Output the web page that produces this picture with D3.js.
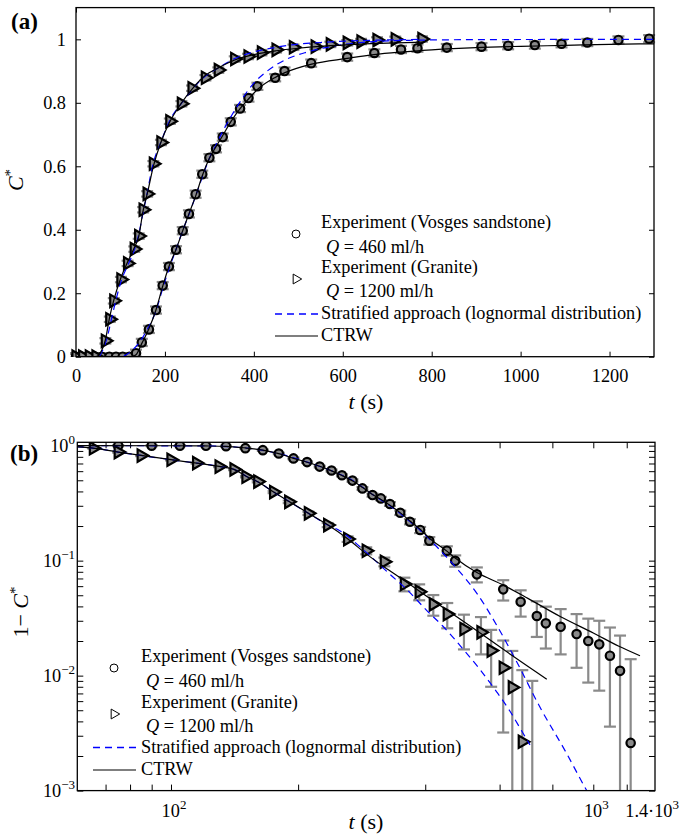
<!DOCTYPE html>
<html>
<head>
<meta charset="utf-8">
<script src="https://cdn.jsdelivr.net/npm/d3@7"></script>
<style>
body { margin: 0; background: #fff; }
</style>
</head>
<body>
<script>
// ---- panel (a): C* against t ----
const tVosgesA = [0,13,28,43,58,75,90,105,120,135,148,164,180,195,209,225,240,254,269,284,300,315,330,348,369,388,408,448,469,529,610,671,731,768,834,912,972,1032,1092,1150,1220,1289];
const cVosgesA = [0,0,0,0,0,0,0,0,0,0.011,0.045,0.086,0.147,0.224,0.284,0.337,0.397,0.450,0.512,0.575,0.627,0.655,0.692,0.740,0.782,0.815,0.852,0.879,0.900,0.925,0.944,0.957,0.968,0.972,0.974,0.977,0.980,0.982,0.986,0.990,0.998,1.002];
const tGraniteA = [0,15,30,45,66,76,85,101,116,131,141,151,160,174,191,211,237,261,291,320,357,387,417,450,489,538,572,610,641,677,718,778];
const cGraniteA = [0,0,0,0,0.05,0.118,0.176,0.243,0.294,0.339,0.38,0.463,0.513,0.608,0.675,0.742,0.797,0.846,0.879,0.903,0.938,0.946,0.958,0.967,0.975,0.977,0.984,0.989,0.993,0.998,1.0,1.001];

const ctrwVosgesTA = [0,125,135,148,164,180,195,209,225,240,254,270,284,300,315,330,348,369,388,408,448,470,530,610,670,730,800,900,1000,1100,1200,1300];
const ctrwVosgesCA = [0,0,0.006,0.042,0.088,0.148,0.222,0.284,0.338,0.397,0.45,0.51,0.57,0.625,0.662,0.697,0.74,0.782,0.812,0.842,0.88,0.895,0.922,0.94,0.952,0.96,0.967,0.974,0.978,0.981,0.984,0.986];
const ctrwGraniteTA = [0,45,55,66,75,85,100,115,130,141,151,160,175,190,211,235,262,290,320,357,400,450,500,550,600,650,700,780];
const ctrwGraniteCA = [0,0,0.012,0.052,0.12,0.178,0.245,0.295,0.34,0.378,0.46,0.512,0.605,0.672,0.74,0.795,0.845,0.885,0.91,0.935,0.952,0.964,0.972,0.978,0.982,0.986,0.988,0.991];
const stratVosgesTA = [0,100,115,130,145,160,180,195,210,225,240,255,270,285,300,315,330,350,370,400,430,470,520,580,650,750,900,1300];
const stratVosgesCA = [0,0,0.008,0.025,0.05,0.085,0.145,0.215,0.28,0.338,0.397,0.452,0.51,0.57,0.625,0.668,0.71,0.76,0.805,0.862,0.9,0.935,0.96,0.979,0.991,0.997,0.999,1.0];
const stratGraniteTA = [0,50,60,70,80,90,102,117,131,141,151,160,172,192,211,238,260,292,320,358,400,450,500,550,600,700,780];
const stratGraniteCA = [0,0,0.02,0.06,0.12,0.18,0.24,0.29,0.335,0.385,0.455,0.515,0.6,0.68,0.745,0.8,0.84,0.885,0.91,0.94,0.96,0.975,0.985,0.99,0.994,0.998,1.0];

const xTicksA = [0,200,400,600,800,1000,1200];
const yTicksA = [0,0.2,0.4,0.6,0.8,1];

// ---- panel (b): 1 - C* against t, log-log ----
const tVosgesB = [75,90,105,121,135,150,165,180,195,210,225,240,254,269,284,300,314,330,349,368,389,409,450,471,530,612,673,735,772,837,913,973,1033,1095,1157,1226];
const vVosgesB = [1.0,1.0,1.0,0.998,0.99,0.952,0.914,0.855,0.775,0.72,0.658,0.608,0.553,0.497,0.425,0.372,0.348,0.311,0.261,0.218,0.185,0.149,0.122,0.0998,0.076,0.0563,0.0439,0.033,0.0285,0.0266,0.023,0.020,0.0187,0.0149,0.011,0.0026];
const tGraniteB = [65.5,75,85,100,115,130,141,150.5,160.5,175,190,211.5,235,262,290,320,357,387,418,451,494,542,573,612,643,679,717];
const vGraniteB = [0.95,0.88,0.82,0.755,0.705,0.658,0.622,0.537,0.487,0.395,0.325,0.258,0.204,0.154,0.122,0.0978,0.0626,0.0537,0.0417,0.0343,0.0254,0.0238,0.0165,0.0117,0.0079,0.00266,0.0005];

const ctrwVosgesTB = [60,100,120,135,150,165,180,195,210,225,240,254,270,285,300,315,330,350,370,390,410,450,470,530,612,700,837,1000,1150,1290];
const ctrwVosgesVB = [1.0,0.999,0.995,0.988,0.956,0.914,0.853,0.776,0.718,0.662,0.604,0.55,0.49,0.43,0.376,0.338,0.303,0.259,0.218,0.186,0.156,0.121,0.106,0.079,0.0614,0.047,0.0325,0.0235,0.018,0.0149];
const ctrwGraniteTB = [60,66,75,85,100,115,130,141,151,160,175,190,211,235,262,290,320,357,400,451,500,572,650,776];
const ctrwGraniteVB = [0.975,0.948,0.88,0.822,0.755,0.705,0.66,0.622,0.54,0.488,0.395,0.328,0.26,0.205,0.155,0.1145,0.088,0.0673,0.05,0.037,0.0285,0.0202,0.0145,0.0093];
const stratVosgesTB = [60,120,150,180,210,240,270,300,330,370,389,426,480,530,590,660,748,865,955,965];
const stratVosgesVB = [1.0,0.995,0.955,0.853,0.72,0.605,0.495,0.376,0.3,0.215,0.184,0.132,0.082,0.052,0.0276,0.013,0.0053,0.0021,0.00107,0.001];
const stratGraniteTB = [60,66,75,85,100,115,130,141,151,160,175,190,211,235,251,290,330,362,403,440,493,539,591,635,677,708];
const stratGraniteVB = [0.975,0.948,0.88,0.822,0.755,0.705,0.66,0.622,0.54,0.488,0.395,0.328,0.26,0.204,0.182,0.118,0.076,0.056,0.037,0.027,0.0168,0.0113,0.0072,0.0049,0.0033,0.0025];

const errVosges = 0.0113;
const errGranite = 0.0085;

const xTicksB = [70,80,90,100,200,400,600,800,1000,1200];
const xLabelValsB = [100,1000,1400];
const xLabelBaseB = ['10','10','1.4·10'];
const xLabelSupB = ['2','3','3'];
const yLabelValsB = [1,0.1,0.01,0.001];
const yLabelSupB = ['0','−1','−2','−3'];

const legendNames = ['Experiment (Vosges sandstone)', '= 460 ml/h', 'Experiment (Granite)', '= 1200 ml/h',
                     'Stratified approach (lognormal distribution)', 'CTRW'];

const FONT = '"Liberation Serif", "Times New Roman", Times, serif';
const W = 680, H = 838;
const svg = d3.select('body').append('svg').attr('width', W).attr('height', H)
  .style('font-family', FONT);

const BLUE = '#0000ff', GREY = '#8a8a8a';
const zip = (a, b) => a.map((d, i) => [d, b[i]]);

function frame(g, x0, y0, x1, y1) {
  g.append('rect').attr('x', x0).attr('y', y0).attr('width', x1 - x0).attr('height', y1 - y0)
    .attr('fill', 'none').attr('stroke', '#000').attr('stroke-width', 1.3);
}

function errorBars(g, pts, err, x, y, lo) {
  const cw = 6;
  pts.forEach(([t, v]) => {
    const yt = y(v + err), yb = v - err > lo ? y(v - err) : y(lo) + 40;
    const xx = x(t);
    g.append('line').attr('x1', xx).attr('x2', xx).attr('y1', yt).attr('y2', yb);
    g.append('line').attr('x1', xx - cw).attr('x2', xx + cw).attr('y1', yt).attr('y2', yt);
    if (v - err > lo) g.append('line').attr('x1', xx - cw).attr('x2', xx + cw).attr('y1', yb).attr('y2', yb);
  });
  g.attr('stroke', GREY).attr('stroke-width', 2.2);
}

const triPath = d3.symbol(d3.symbolTriangle, 66)();
const triLegend = d3.symbol(d3.symbolTriangle, 42)();

function circles(g, pts, x, y) {
  g.selectAll('circle').data(pts).join('circle')
    .attr('cx', d => x(d[0])).attr('cy', d => y(d[1])).attr('r', 4.2)
    .attr('fill', GREY).attr('stroke', '#000').attr('stroke-width', 2.2);
}
function triangles(g, pts, x, y) {
  g.selectAll('path').data(pts).join('path')
    .attr('d', triPath)
    .attr('transform', d => `translate(${x(d[0])},${y(d[1])}) rotate(90)`)
    .attr('fill', GREY).attr('stroke', '#000').attr('stroke-width', 2.2);
}
function curve(g, pts, x, y, dashed) {
  const line = d3.line().x(d => x(d[0])).y(d => y(d[1])).curve(d3.curveMonotoneX);
  g.append('path').attr('d', line(pts)).attr('fill', 'none')
    .attr('stroke', dashed ? BLUE : '#000').attr('stroke-width', 1.2)
    .attr('stroke-dasharray', dashed ? '7,5' : null);
}

function legend(g, x0, xt, yb) {
  // yb: baselines of the six legend lines
  g.append('circle').attr('cx', x0 + 21).attr('cy', yb[0] + 6).attr('r', 4)
    .attr('fill', 'none').attr('stroke', '#000').attr('stroke-width', 1);
  g.append('path').attr('d', triLegend)
    .attr('transform', `translate(${x0 + 21},${yb[2] + 6}) rotate(90)`)
    .attr('fill', 'none').attr('stroke', '#000').attr('stroke-width', 1);
  g.append('line').attr('x1', x0).attr('x2', x0 + 44).attr('y1', yb[4] - 5).attr('y2', yb[4] - 5)
    .attr('stroke', BLUE).attr('stroke-width', 1.3).attr('stroke-dasharray', '7,5');
  g.append('line').attr('x1', x0).attr('x2', x0 + 43).attr('y1', yb[5] - 5).attr('y2', yb[5] - 5)
    .attr('stroke', '#000').attr('stroke-width', 1.2);
  legendNames.forEach((s, i) => {
    const q = (i === 1 || i === 3);
    const t = g.append('text').attr('x', q ? xt + 5 : xt).attr('y', yb[i]).attr('font-size', 18.3);
    if (q) {
      t.append('tspan').attr('font-style', 'italic').text('Q');
      t.append('tspan').text(' ' + s);
    } else t.text(s);
  });
}

// ================= panel (a) =================
const xA = d3.scaleLinear().domain([0, 1300]).range([76, 654]);
const yA = d3.scaleLinear().domain([0, 1.1]).range([356.7, 7.6]);
const gA = svg.append('g');

gA.append('clipPath').attr('id', 'clipA').append('rect')
  .attr('x', 70).attr('y', 0).attr('width', 590).attr('height', 357);

const axA = gA.append('g');
const fmtA = d => (d === 0 || d === 1) ? d3.format('d')(d) : d3.format('.1f')(d);
axA.append('g').attr('transform', 'translate(0,356.7)')
  .call(d3.axisBottom(xA).tickValues(xTicksA).tickFormat(d3.format('d')).tickSize(-5).tickPadding(12))
  .call(g => g.select('.domain').remove());
axA.append('g').attr('transform', 'translate(0,7.6)')
  .call(d3.axisTop(xA).tickValues(xTicksA).tickSize(-5).tickFormat(''))
  .call(g => g.select('.domain').remove());
axA.append('g').attr('transform', 'translate(76,0)')
  .call(d3.axisLeft(yA).tickValues(yTicksA).tickFormat(fmtA).tickSize(-5).tickPadding(10))
  .call(g => g.select('.domain').remove());
axA.append('g').attr('transform', 'translate(654,0)')
  .call(d3.axisRight(yA).tickValues(yTicksA).tickSize(-5).tickFormat(''))
  .call(g => g.select('.domain').remove());
axA.selectAll('g').attr('font-family', null).attr('font-size', 18.3);
axA.selectAll('text').attr('fill', '#000');
axA.selectAll('.tick line').attr('stroke', '#000');

const dataA = gA.append('g').attr('clip-path', 'url(#clipA)');
errorBars(dataA.append('g'), zip(tVosgesA, cVosgesA), errVosges, xA, yA, -1);
errorBars(dataA.append('g'), zip(tGraniteA, cGraniteA), errGranite, xA, yA, -1);
circles(dataA.append('g'), zip(tVosgesA, cVosgesA), xA, yA);
triangles(dataA.append('g'), zip(tGraniteA, cGraniteA), xA, yA);
curve(dataA, zip(stratVosgesTA, stratVosgesCA), xA, yA, true);
curve(dataA, zip(stratGraniteTA, stratGraniteCA), xA, yA, true);
curve(dataA, zip(ctrwVosgesTA, ctrwVosgesCA), xA, yA, false);
curve(dataA, zip(ctrwGraniteTA, ctrwGraniteCA), xA, yA, false);

frame(gA, 76, 7.6, 654, 356.7);
legend(gA.append('g'), 275, 321, [228, 252.5, 273, 297, 319, 341]);

gA.append('text').attr('x', 11).attr('y', 29).attr('font-size', 23).attr('font-weight', 'bold').text('(a)');
const ytA = gA.append('text').attr('transform', 'translate(23,180) rotate(-90)')
  .attr('text-anchor', 'middle').attr('font-size', 22);
ytA.append('tspan').attr('font-style', 'italic').text('C');
ytA.append('tspan').attr('dy', -8).attr('font-size', 15).text('*');
const xtA = gA.append('text').attr('x', 366).attr('y', 409).attr('text-anchor', 'middle').attr('font-size', 22);
xtA.append('tspan').attr('font-style', 'italic').text('t');
xtA.append('tspan').text(' (s)');

// ================= panel (b) =================
const xB = d3.scaleLog().domain([60, 1400]).range([77.3, 655]);
const yB = d3.scaleLog().domain([1e-3, 1.07]).range([790.6, 442.3]);
const gB = svg.append('g');

gB.append('clipPath').attr('id', 'clipB').append('rect')
  .attr('x', 77.3).attr('y', 442.3).attr('width', 577.7).attr('height', 348.3);

const axB = gB.append('g');
const yTicksB = yB.ticks();
axB.append('g').attr('transform', 'translate(0,790.6)')
  .call(d3.axisBottom(xB).tickValues(xTicksB).tickSize(-6).tickFormat(''))
  .call(g => g.select('.domain').remove());
axB.append('g').attr('transform', 'translate(0,442.3)')
  .call(d3.axisTop(xB).tickValues(xTicksB).tickSize(-6).tickFormat(''))
  .call(g => g.select('.domain').remove());
axB.append('g').attr('transform', 'translate(77.3,0)')
  .call(d3.axisLeft(yB).tickValues(yTicksB).tickSize(-6).tickFormat(''))
  .call(g => g.select('.domain').remove());
axB.append('g').attr('transform', 'translate(655,0)')
  .call(d3.axisRight(yB).tickValues(yTicksB).tickSize(-6).tickFormat(''))
  .call(g => g.select('.domain').remove());
axB.selectAll('.tick line').attr('stroke', '#000');

xLabelValsB.forEach((v, i) => {
  const last = i === xLabelValsB.length - 1;
  const t = gB.append('text').attr('x', last ? 679 : xB(v) + 3).attr('y', 817)
    .attr('text-anchor', last ? 'end' : 'middle').attr('font-size', 18.3);
  t.append('tspan').text(xLabelBaseB[i]);
  t.append('tspan').attr('dy', -8).attr('font-size', 13).text(xLabelSupB[i]);
});
yLabelValsB.forEach((v, i) => {
  const t = gB.append('text').attr('x', 75).attr('y', yB(v) + 6).attr('text-anchor', 'end').attr('font-size', 18.3);
  t.append('tspan').text('10');
  t.append('tspan').attr('dy', -8).attr('font-size', 13).text(yLabelSupB[i]);
});

const dataB = gB.append('g').attr('clip-path', 'url(#clipB)');
errorBars(dataB.append('g'), zip(tVosgesB, vVosgesB), errVosges, xB, yB, 1e-3);
errorBars(dataB.append('g'), zip(tGraniteB, vGraniteB), errGranite, xB, yB, 1e-3);
circles(dataB.append('g'), zip(tVosgesB, vVosgesB), xB, yB);
triangles(dataB.append('g'), zip(tGraniteB, vGraniteB), xB, yB);
curve(dataB, zip(stratVosgesTB, stratVosgesVB), xB, yB, true);
curve(dataB, zip(stratGraniteTB, stratGraniteVB), xB, yB, true);
curve(dataB, zip(ctrwVosgesTB, ctrwVosgesVB), xB, yB, false);
curve(dataB, zip(ctrwGraniteTB, ctrwGraniteVB), xB, yB, false);

frame(gB, 77.3, 442.3, 655, 790.6);
legend(gB.append('g'), 93, 141, [662, 686.5, 708, 731.5, 752.5, 775]);

gB.append('text').attr('x', 10).attr('y', 461).attr('font-size', 23).attr('font-weight', 'bold').text('(b)');
const ytB = gB.append('text').attr('transform', 'translate(28,612) rotate(-90)')
  .attr('text-anchor', 'middle').attr('font-size', 22);
ytB.append('tspan').text('1− ');
ytB.append('tspan').attr('font-style', 'italic').text('C');
ytB.append('tspan').attr('dy', -8).attr('font-size', 15).text('*');
const xtB = gB.append('text').attr('x', 366).attr('y', 829).attr('text-anchor', 'middle').attr('font-size', 22);
xtB.append('tspan').attr('font-style', 'italic').text('t');
xtB.append('tspan').text(' (s)');

// one serif face for every label
svg.selectAll('text').style('font-family', FONT);
</script>
</body>
</html>
